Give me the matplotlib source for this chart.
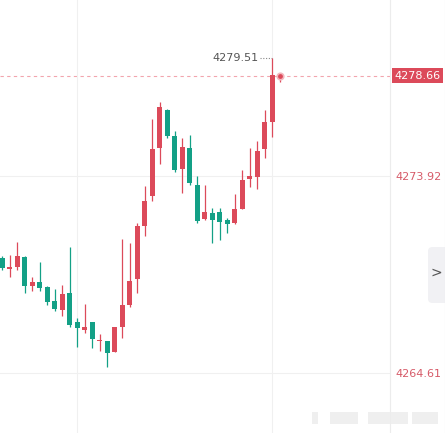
import matplotlib.pyplot as plt
import numpy as np
from matplotlib.patches import FancyBboxPatch, Rectangle

# candle data (oldest -> newest)
opens = [4270.04, 4269.52, 4269.62, 4270.09, 4268.72, 4268.91, 4268.67, 4268.01, 4267.59, 4268.39,
         4267.02, 4266.64, 4267.02, 4266.12, 4266.12, 4265.60, 4266.78, 4267.82, 4269.05, 4271.56,
         4272.98, 4275.24, 4277.04, 4275.81, 4274.25, 4275.24, 4273.49, 4271.89, 4272.17, 4272.22,
         4271.84, 4271.70, 4272.36, 4273.78, 4273.87, 4275.20, 4276.47, 4278.60]
closes = [4269.57, 4269.60, 4270.14, 4268.72, 4268.91, 4268.63, 4267.97, 4267.63, 4268.34, 4266.88,
          4266.74, 4266.78, 4266.22, 4266.17, 4265.56, 4266.78, 4267.82, 4268.96, 4271.56, 4272.74,
          4275.20, 4277.18, 4275.81, 4274.20, 4275.29, 4273.59, 4271.79, 4272.22, 4271.84, 4271.75,
          4271.65, 4272.36, 4273.73, 4273.92, 4275.10, 4276.47, 4278.69, 4278.66]
highs = [4270.14, 4270.19, 4270.80, 4270.12, 4269.15, 4269.86, 4268.72, 4268.58, 4268.77, 4270.56,
         4267.21, 4267.87, 4267.02, 4266.45, 4266.12, 4266.78, 4270.94, 4270.75, 4271.70, 4273.45,
         4276.61, 4277.42, 4277.09, 4276.05, 4275.72, 4275.86, 4273.92, 4273.49, 4272.41, 4272.41,
         4271.94, 4273.07, 4274.20, 4275.24, 4275.57, 4277.04, 4279.51, 4278.75]
lows = [4269.48, 4269.15, 4269.48, 4268.39, 4268.49, 4268.49, 4267.82, 4267.54, 4267.30, 4266.78,
        4265.84, 4266.50, 4265.79, 4265.65, 4264.89, 4265.60, 4266.26, 4267.73, 4268.39, 4271.08,
        4272.74, 4274.49, 4275.72, 4274.11, 4273.12, 4273.49, 4271.70, 4271.84, 4270.75, 4270.90,
        4271.23, 4271.65, 4272.36, 4273.40, 4273.31, 4274.77, 4275.76, 4278.36]

axis_ticks = [4264.61, 4273.92]
last_price = 4278.66
max_price = 4279.51

RED = '#dc4a5a'
TEAL = '#13a086'

fig = plt.figure(figsize=(4.45, 4.33), dpi=100)
ax = fig.add_axes([0, 0, 390 / 445, 1])

x = np.arange(len(opens))
o = np.array(opens)
c = np.array(closes)
cols = np.where(c >= o, RED, TEAL)

ax.vlines(x, lows, highs, colors=cols, lw=0.9, zorder=3)
body = np.maximum(np.abs(c - o), 0.04)
ax.bar(x, body, bottom=np.minimum(o, c), width=0.67, color=cols, zorder=4)
ax.scatter([x[-1]], [last_price], s=22, color=RED, zorder=5, edgecolors='#f3b8bf', linewidths=1.2)

ax.set_xlim(-0.27, 51.73)
ax.set_ylim(4261.77, 4282.24)

# grid
ax.set_xticks([10, 36])
ax.set_yticks(axis_ticks)
ax.grid(True, color='#f0f0f0', lw=0.8, zorder=0)
ax.yaxis.tick_right()
ax.tick_params(axis='x', length=0, labelbottom=False)
ax.tick_params(axis='y', length=0, pad=4, labelsize=8, labelcolor='#d65a68')
ax.set_yticklabels([f'{v:.2f}' for v in axis_ticks])
for s in ['top', 'left', 'bottom']:
    ax.spines[s].set_visible(False)
ax.spines['right'].set_color('#ececec')
ax.spines['right'].set_linewidth(0.8)

# last price dashed line + label box
ax.axhline(last_price, color='#f2a5ae', lw=0.8, ls=(0, (3, 3)), zorder=1)
ax.text(1.0103, last_price, f'{last_price:.2f}', transform=ax.get_yaxis_transform(),
        fontsize=8, color='white', va='center', ha='left', clip_on=False,
        bbox=dict(boxstyle='square,pad=0.22', fc=RED, ec='none'))

# max price marker
ax.plot([34.4, 36], [max_price, max_price], color='#888888', lw=0.8, ls=(0, (1, 1.5)), zorder=2)
ax.text(34.2, max_price, f'{max_price:.2f}', fontsize=8, color='#555555', ha='right', va='center')

# side panel button
fig.patches.append(FancyBboxPatch((428 / 445, 130 / 433), 30 / 445, 56 / 433,
                                  boxstyle='round,pad=0,rounding_size=0.01',
                                  transform=fig.transFigure, fc='#f1f1f4', ec='none'))
fig.text(436 / 445, 160 / 433, '>', fontsize=10, color='#555555', ha='center', va='center')

# blurred watermark at bottom right
for x0, w in [(312, 6), (330, 28), (368, 40), (412, 26)]:
    fig.patches.append(Rectangle((x0 / 445, 9 / 433), w / 445, 12 / 433,
                                 transform=fig.transFigure, fc='#ececec', ec='none', alpha=0.8))
fig.add_artist(plt.Line2D([444.5 / 445, 444.5 / 445], [0, 1], color='#ececec', lw=0.8))

fig.savefig('out.png', dpi=100)
